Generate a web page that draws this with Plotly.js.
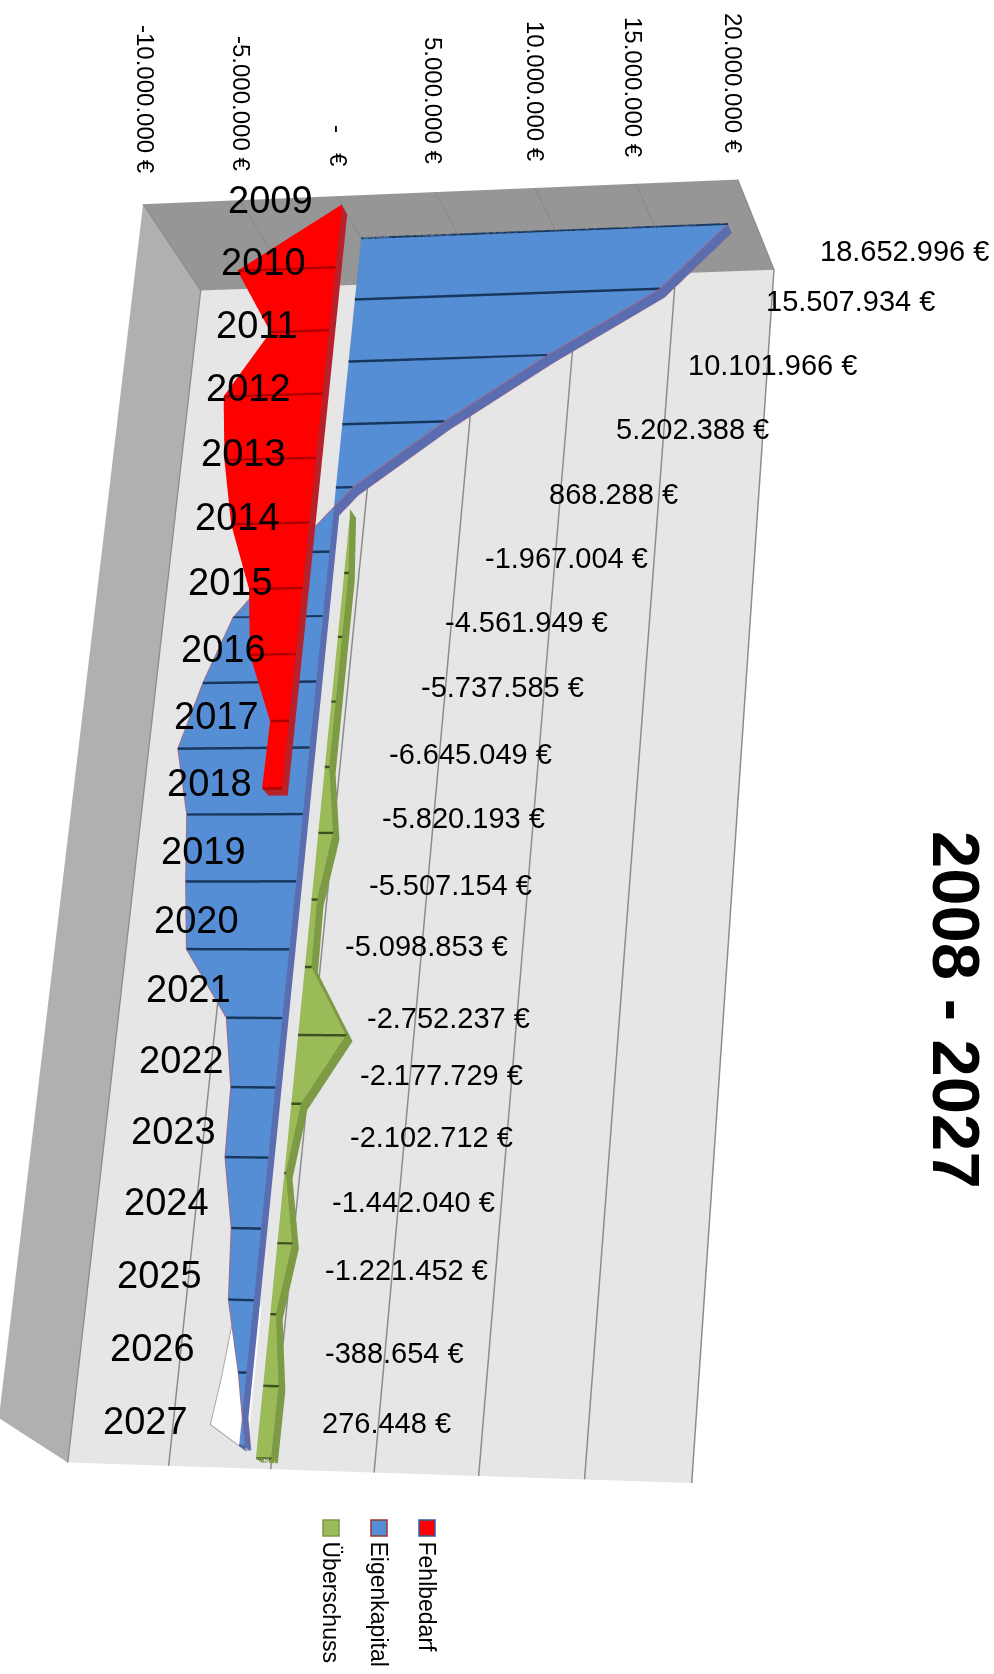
<!DOCTYPE html>
<html><head><meta charset="utf-8">
<script src="https://cdn.plot.ly/plotly-3.0.1.min.js"></script>
<style>html,body{margin:0;padding:0;background:#fff;overflow:hidden}
#frame{position:relative;width:994px;height:1674px;overflow:hidden}
#chart{position:absolute;left:0;top:-1014px}</style>
</head><body><div id="frame"><div id="chart"></div></div>
<script>
const years = [2009,2010,2011,2012,2013,2014,2015,2016,2017,2018,2019,2020,2021,2022,2023,2024,2025,2026,2027];
const eigenkapital = [18652996,15507934,10101966,5202388,868288,-1967004,-4561949,-5737585,-6645049,-5820193,-5507154,-5098853,-2752237,-2177729,-2102712,-1442040,-1221452,-388654,276448];
const fehlbedarf = [0,-5000000,-2950000,-5000000,-4600000,-3900000,-2650000,-2250000,-900000,-950000,null,null,null,null,null,null,null,null,null];
const ueberschuss = [null,null,null,null,0,250000,250000,250000,250000,770000,300000,350000,2400000,500000,100000,750000,300000,770000,750000];
const leerJahre = [2025,2026,2026.65,2027];
const leerWerte = [-1221452,-1550000,-1850000,0];
const tickValues = [-10000000,-5000000,0,5000000,10000000,15000000,20000000];
const tickTexts = ['-10.000.000 €','-5.000.000 €','-\u00a0\u00a0\u00a0€','5.000.000 €','10.000.000 €','15.000.000 €','20.000.000 €'];
const seriesNames = ['Fehlbedarf','Eigenkapital','Überschuss'];
const titleText = '2008 - 2027';

// text placement in page pixels
const tickPx = [[146,99],[241,103],[338,146],[434,100],[535,91],[634,87],[734,83]];
const yearPx = [[270,200],[263,262],[257,325],[249,388],[243,453],[237,517],[230,582],[223,649],[216,716],[209,783],[203,851],[196,920],[188,989],[181,1060],[173,1131],[166,1202],[159,1275],[152,1348],[145,1421]];
const labelPx = [[904,251],[850,301],[772,365],[692,429],[613,494],[566,558],[526,622],[502,687],[470,754],[463,818],[450,885],[426,946],[448,1018],[441,1075],[431,1137],[413,1202],[406,1270],[394,1353],[386,1423]];

// The plot is taller than the page so that the fixed 45 degree lens gives the reference's weak perspective.
const W = 994, H = 3728, TOP = 1014;
const fmt = v => String(Math.abs(v)).replace(/\B(?=(\d{3})+$)/g,'.');
const euro = v => (v<0?'-':'')+fmt(v)+' €';
const lit = {ambient:1,diffuse:0,specular:0,roughness:1,fresnel:0};

function series(name, yrs, vals, zF, zB, face, side, tick, edge){
  // keep the known points; where an area changes sign the polygon is split at its own zero crossing
  const pts=[];
  vals.forEach((v,i)=>{
    if(v===null) return;
    const last=pts[pts.length-1];
    if(last && last.v*v<0) pts.push({y:last.y+(yrs[i]-last.y)*last.v/(last.v-v),v:0,cross:true});
    pts.push({y:yrs[i],v:v});
  });
  const X=[],Y=[],Z=[];
  pts.forEach(p=>{ X.push(p.v,0,p.v,0); Y.push(p.y,p.y,p.y,p.y); Z.push(zF,zF,zB,zB); });
  const fi=[],fj=[],fk=[],si=[],sj=[],sk=[];
  for(let n=0;n<pts.length-1;n++){
    const a=n*4,b=(n+1)*4;
    fi.push(a,a); fj.push(a+1,b+1); fk.push(b+1,b);
    si.push(a,a, a+1,a+1); sj.push(a+2,b+2, a+3,b+3); sk.push(b+2,b, b+3,b+1);
  }
  const e=(pts.length-1)*4;
  si.push(e,e); sj.push(e+1,e+3); sk.push(e+3,e+2);
  const mk=(I,J,K,c)=>({type:'mesh3d',name:name,x:X,y:Y,z:Z,i:I,j:J,k:K,color:c,flatshading:true,lighting:lit,hoverinfo:'skip',showscale:false});
  const lx=[],ly=[],lz=[];
  pts.filter(p=>!p.cross).forEach(p=>{lx.push(0,p.v,null);ly.push(p.y,p.y,null);lz.push(zF-.002,zF-.002,null);});
  const line=(zz,c,w)=>({type:'scatter3d',mode:'lines',x:pts.map(p=>p.v),y:pts.map(p=>p.y),z:pts.map(()=>zz),line:{color:c,width:w},hoverinfo:'skip',showlegend:false});
  const out=[mk(fi,fj,fk,face), mk(si,sj,sk,side), line(zF-.002,edge,2), line(zB-.002,edge,2)];
  if(tick) out.push({type:'scatter3d',mode:'lines',x:lx,y:ly,z:lz,line:{color:tick,width:5},hoverinfo:'skip',showlegend:false});
  return out;
}
const data = [].concat(
  series(seriesNames[0],years,fehlbedarf,0.10,0.20,'#ff0000','#b8202a','#b00000','#ff0000'),
  series(seriesNames[1],years,eigenkapital,0.47,0.57,'#558ed5','#5a6db0','#17375e','#a06a8a'),
  series('',leerJahre,leerWerte,0.59,0.60,'#ffffff','#ffffff',null,'#a8a0a0'),
  series(seriesNames[2],years,ueberschuss,0.75,0.85,'#9bbb59','#7d9a45','#3f5020','#7d9a45')
);

const px = p => [p[0]/W, 1-(p[1]+TOP)/H];
const annos = [];
function txt(p,t,size,angle,extra){
  const q=px(p);
  annos.push(Object.assign({xref:'paper',yref:'paper',x:q[0],y:q[1],text:t,showarrow:false,textangle:angle,
    xanchor:'center',yanchor:'middle',font:{family:'Liberation Sans',size:size,color:'#000'}},extra||{}));
}
tickTexts.forEach((t,i)=>txt(tickPx[i],t,24,90));
years.forEach((y,i)=>txt(yearPx[i],String(y),38,0));
eigenkapital.forEach((v,i)=>txt(labelPx[i],euro(v),29,0));
txt([957,1010],'<b>'+titleText+'</b>',67,90);
const legendX=[427,379,331], legendFill=['#ff0000','#558ed5','#9bbb59'], legendLine=['#2f5f9f','#953735','#7d9a45'];
const shapes=[];
seriesNames.forEach((n,i)=>{
  const a=px([legendX[i]-8,1520]), b=px([legendX[i]+8,1536]);
  shapes.push({type:'rect',xref:'paper',yref:'paper',x0:a[0],x1:b[0],y0:a[1],y1:b[1],fillcolor:legendFill[i],line:{color:legendLine[i],width:1.5}});
  txt([legendX[i],1539],n,23,90,{yanchor:'top'});
});

const s=616, dist=7.3, view=[0.25,0.322,-0.907];
const right=[0.968,-0.0791,0.225], down=[-0.0006,0.9435,0.357];
const look=[0,1,2].map(k=>(91/s)*right[k]+(34/s)*down[k]);
const layout = {
  width:W,height:H,margin:{l:0,r:0,t:0,b:0},paper_bgcolor:'#fff',showlegend:false,
  annotations:annos,shapes:shapes,
  scene:{
    aspectmode:'manual',aspectratio:{x:1.02,y:2.078,z:0.325},
    camera:{projection:{type:'perspective'},center:{x:look[0],y:look[1],z:look[2]},
      eye:{x:look[0]+view[0]*dist,y:look[1]+view[1]*dist,z:look[2]+view[2]*dist},up:{x:0.0083,y:-0.944,z:-0.355}},
    xaxis:{range:[tickValues[0],tickValues[6]],tickvals:tickValues,showticklabels:false,ticks:'',title:{text:''},showgrid:true,gridcolor:'#8c8c8c',gridwidth:3,zeroline:false,showline:false,showbackground:true,backgroundcolor:'#b0b0b0',showspikes:false},
    yaxis:{range:[years[0],years[18]],showticklabels:false,ticks:'',title:{text:''},showgrid:false,zeroline:false,showline:false,showbackground:true,backgroundcolor:'#969696',showspikes:false},
    zaxis:{range:[0,1],showticklabels:false,ticks:'',title:{text:''},showgrid:false,zeroline:false,showline:false,showbackground:true,backgroundcolor:'#e6e6e6',showspikes:false}
  }
};
Plotly.newPlot('chart',data,layout,{displayModeBar:false});
</script></body></html>
